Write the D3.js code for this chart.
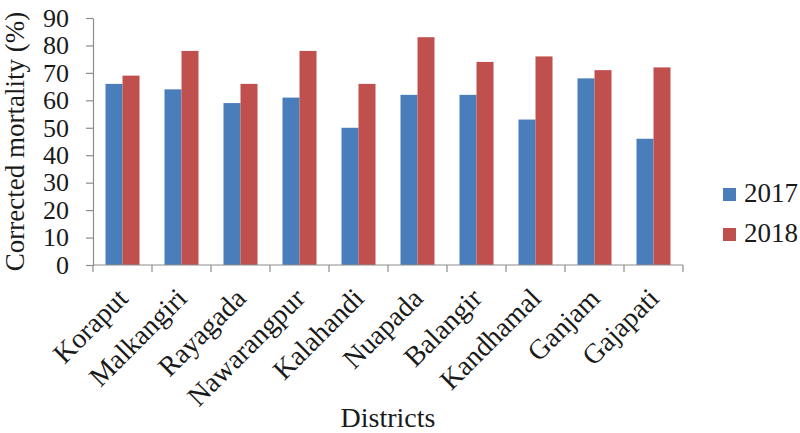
<!DOCTYPE html>
<html>
<head>
<meta charset="utf-8">
<script src="https://cdn.jsdelivr.net/npm/d3@7"></script>
<style>
  html, body { margin: 0; padding: 0; background: #fff; }
  svg { display: block; }
  svg text { font-family: "Liberation Serif", "Times New Roman", serif !important; fill: #1a1a1a; }
</style>
</head>
<body>
<svg id="chart" width="800" height="433"></svg>
<script>
const districts = ["Koraput", "Malkangiri", "Rayagada", "Nawarangpur", "Kalahandi", "Nuapada", "Balangir", "Kandhamal", "Ganjam", "Gajapati"];
const seriesNames = ["2017", "2018"];
const values2017 = [66, 64, 59, 61, 50, 62, 62, 53, 68, 46];
const values2018 = [69, 78, 66, 78, 66, 83, 74, 76, 71, 72];
const yTicks = [0, 10, 20, 30, 40, 50, 60, 70, 80, 90];
const colors = ["#4a7ebb", "#c0504d"];

const svg = d3.select("#chart");
const mLeft = 93, mRight = 683, mTop = 18, mBottom = 265;
const serif = '"Liberation Serif", "Times New Roman", serif';

const x0 = d3.scaleBand().domain(districts).range([mLeft, mRight]).padding(0);
const x1 = d3.scaleBand().domain(seriesNames).range([0, x0.bandwidth()]).paddingInner(0).paddingOuter(0.735);
const y = d3.scaleLinear().domain([0, 90]).range([mBottom, mTop]);
const color = d3.scaleOrdinal().domain(seriesNames).range(colors);

const data = districts.map((d, i) => ({ district: d, vals: [
  { key: "2017", v: values2017[i] }, { key: "2018", v: values2018[i] }
]}));

// bars
const g = svg.append("g");
g.selectAll("g.grp").data(data).enter().append("g")
  .attr("transform", d => `translate(${x0(d.district)},0)`)
  .selectAll("rect").data(d => d.vals).enter().append("rect")
  .attr("x", d => x1(d.key))
  .attr("width", x1.bandwidth())
  .attr("y", d => y(d.v))
  .attr("height", d => y(0) - y(d.v))
  .attr("fill", d => color(d.key));

// y axis
const yAxis = svg.append("g").attr("transform", `translate(${mLeft},0)`)
  .call(d3.axisLeft(y).tickValues(yTicks).tickSize(7).tickSizeOuter(0).tickPadding(17));
yAxis.attr("font-family", null).attr("font-size", null);
yAxis.select(".domain").attr("stroke", "#8c8c8c").attr("stroke-width", 1.2);
yAxis.selectAll(".tick line").attr("stroke", "#8c8c8c").attr("stroke-width", 1.2);
yAxis.selectAll(".tick text").style("font-size", "26px").style("font-family", serif).attr("fill", "#1a1a1a");

// x axis line and boundary ticks
const xAxis = svg.append("g");
xAxis.append("line").attr("x1", mLeft).attr("x2", mRight).attr("y1", y(0)).attr("y2", y(0))
  .attr("stroke", "#8c8c8c").attr("stroke-width", 1.2);
const bounds = districts.map(d => x0(d)).concat([x0(districts[districts.length - 1]) + x0.bandwidth()]);
xAxis.selectAll("line.bt").data(bounds).enter().append("line")
  .attr("x1", d => d).attr("x2", d => d).attr("y1", y(0)).attr("y2", y(0) + 7)
  .attr("stroke", "#8c8c8c").attr("stroke-width", 1.2);

// category labels
svg.append("g").selectAll("text").data(districts).enter().append("text")
  .attr("transform", d => `translate(${x0(d) + x0.bandwidth() / 2 + 7},300) rotate(-45)`)
  .attr("text-anchor", "end")
  .style("font-size", "28px")
  .text(d => d);

// axis titles
svg.append("text")
  .attr("transform", `translate(24,${(mTop + mBottom) / 2}) rotate(-90)`)
  .attr("text-anchor", "middle").style("font-size", "27px")
  .text("Corrected mortality (%)");
svg.append("text")
  .attr("x", 388).attr("y", 427)
  .attr("text-anchor", "middle").style("font-size", "28px")
  .text("Districts");

// legend
const legend = svg.append("g");
const leg = legend.selectAll("g").data(seriesNames).enter().append("g")
  .attr("transform", (d, i) => `translate(723,${188 + i * 40})`);
leg.append("rect").attr("width", 13).attr("height", 13).attr("fill", d => color(d));
leg.append("text").attr("x", 21).attr("y", 14).style("font-size", "27px").text(d => d);
</script>
</body>
</html>
